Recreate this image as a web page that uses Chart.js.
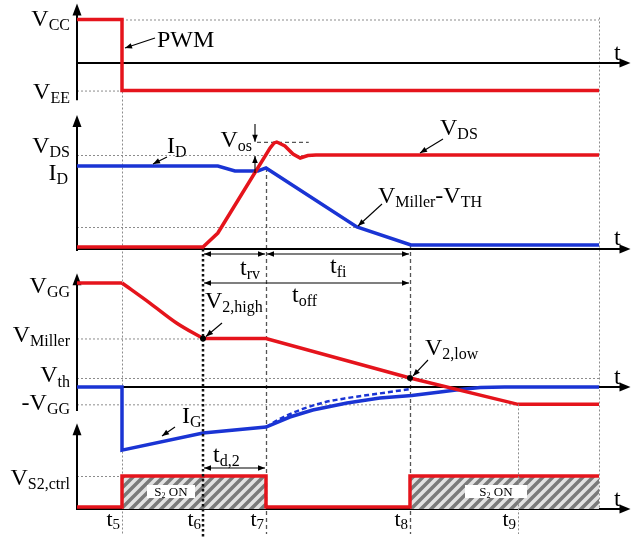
<!DOCTYPE html>
<html>
<head>
<meta charset="utf-8">
<script src="https://cdn.jsdelivr.net/npm/chart.js@4"></script>
<style>
  html, body { margin: 0; padding: 0; background: #fff; }
  canvas { display: block; }
</style>
</head>
<body>
<canvas id="c" width="632" height="538"></canvas>
<script>
// ---- switching instants (time axis, arbitrary units) ----
const tickNames = ['5', '6', '7', '8', '9'];
const tickTimes = [10, 28, 42, 74, 98];
const T_END = 116;
const [T5, T6, T7, T8, T9] = tickTimes;

// ---- panel 1: PWM command (V) ----
const VCC = 15, VEE = -9.5;
const pwmTime = [0, T5, T5, T_END];
const pwmVolt = [VCC, VCC, VEE, VEE];

// ---- panel 2: drain voltage / current (% of blocking voltage) ----
const VDS_LEVEL = 100, VDS_PEAK = 114, ID_LEVEL = 88.3, MILLER_TH_LEVEL = 23.4;
const vdsTime = [0, T6, 31.3, 42.9, 43.8, 44.4, 45.3, 46.2, 48, 49.6, 51.3, 53.1, T_END];
const vdsPct  = [2.1, 2.1, 17, 107.4, 112.8, 113.8, 111.7, 109.6, 101, 96.8, 99.5, 100, 100];
const idTime  = [0, 31.3, 35.1, 40.2, T7, 62.2, 74.2, T_END];
const idPct   = [88.3, 88.3, 83, 83, 86.2, 23.4, 4.3, 4.3];

// ---- panel 3: gate voltage and gate current ----
const VGG = 15, V_MILLER = 7, V_TH = 1.3, NEG_VGG = -2.5;
// gate discharge down to the Miller plateau (smooth part)
const vgeFallTime = [T5, 16.2, 22.2, T6];
const vgeFallVolt = [VGG, 12.1, 9.2, V_MILLER];
// remaining piecewise-linear part
const vgeTime = [0, T5, T5, T6, T7, T8, T9, T_END];
const vgeVolt = [VGG, VGG, VGG, V_MILLER, V_MILLER, V_TH, NEG_VGG, NEG_VGG];
const igTime  = [0, T5, T5, T6, T7, 47.3, 52.4, 60, 67.3, 74.4, 80.7, 85.1, 89.6, 95, T_END];
const igVal   = [0, 0, -9.1, -6.63, -5.77, -4.33, -3.32, -2.31, -1.59, -1.23, -0.72, -0.36, -0.07, 0, 0];
const igAltTime = [T7, 46, 50, 55, 60, 67, T8];
const igAltVal  = [-5.77, -4.3, -3.2, -2.2, -1.6, -0.95, -0.3];

// ---- panel 4: S2 control signal ----
const VS2 = 1;
const s2Time = [0, T5, T5, T7, T7, T8, T8, T_END];
const s2Val  = [0.06, 0.06, VS2, VS2, 0.06, 0.06, VS2, VS2];
const s2OnStart = [T5, T8];
const s2OnEnd   = [T7, T_END];

// ---- layout ----
const W = 632, H = 538;
const X0 = 77, XK = 4.5;                 // pixel of t = 0, pixels per time unit
const RED = '#e5141c', BLUE = '#1a34d4';
const FONT = '"Liberation Serif", "Times New Roman", serif';

function yScale(axisPx, gain) {
  return { type: 'linear', display: false, min: -(H - axisPx) / gain, max: axisPx / gain };
}
const pts = (xs, ys) => xs.map((x, i) => ({ x, y: ys[i] }));

function hatchPattern() {
  const c = document.createElement('canvas');
  c.width = 10; c.height = 10;
  const g = c.getContext('2d');
  g.fillStyle = '#e2e2e2';
  g.fillRect(0, 0, 10, 10);
  g.strokeStyle = '#7a7a7a';
  g.lineWidth = 3.5;
  g.beginPath();
  g.moveTo(-2, 12); g.lineTo(12, -2);
  g.moveTo(-2, 2); g.lineTo(2, -2);
  g.moveTo(8, 12); g.lineTo(12, 8);
  g.stroke();
  return g.createPattern(c, 'repeat');
}
const HATCH = hatchPattern();

function trace(data, yAxisID, color, extra) {
  return Object.assign({
    data, yAxisID, borderColor: color, borderWidth: 3.5,
    pointRadius: 0, tension: 0, fill: false, borderJoinStyle: 'miter', borderCapStyle: 'butt'
  }, extra || {});
}

const datasets = [
  trace(pts(pwmTime, pwmVolt), 'y1', RED, { order: 1 }),
  trace(pts(vdsTime, vdsPct), 'y2', RED, { order: 1 }),
  trace(pts(idTime, idPct), 'y2', BLUE, { order: 2 }),
  trace(pts(vgeFallTime, vgeFallVolt), 'y3', RED, { order: 1, cubicInterpolationMode: 'monotone', borderJoinStyle: 'round' }),
  trace(pts(vgeTime, vgeVolt), 'y3', RED, { order: 1, segment: { borderColor: c => c.p0DataIndex === 2 ? 'rgba(0,0,0,0)' : RED } }),
  trace(pts(igTime, igVal), 'y3', BLUE, { order: 2 }),
  trace(pts(igAltTime, igAltVal), 'y3', BLUE, { order: 2, borderWidth: 2.5, borderDash: [5, 3], cubicInterpolationMode: 'monotone' }),
  trace(pts(s2Time, s2Val), 'y4', RED, { order: 1 })
];
s2OnStart.forEach((s, i) => {
  datasets.push({
    data: pts([s, s2OnEnd[i]], [VS2, VS2]), yAxisID: 'y4',
    borderWidth: 0, pointRadius: 0, fill: 'origin', backgroundColor: HATCH, order: 5
  });
});

// ---- drawing helpers ----
function rich(ctx, parts, x, y, align, mainSize, subSize, subDy) {
  mainSize = mainSize || 24; subSize = subSize || 16; subDy = subDy === undefined ? 4 : subDy;
  const fonts = parts.map(p => `${p[1] ? subSize : mainSize}px ${FONT}`);
  let w = 0;
  parts.forEach((p, i) => { ctx.font = fonts[i]; w += ctx.measureText(p[0]).width; });
  let cx = align === 'right' ? x - w : align === 'center' ? x - w / 2 : x;
  ctx.fillStyle = '#000';
  ctx.textAlign = 'left';
  ctx.textBaseline = 'alphabetic';
  parts.forEach((p, i) => {
    ctx.font = fonts[i];
    ctx.fillText(p[0], cx, y + (p[1] ? subDy : 0));
    cx += ctx.measureText(p[0]).width;
  });
}
function line(ctx, x1, y1, x2, y2, st) {
  ctx.save();
  ctx.strokeStyle = st.color; ctx.lineWidth = st.width; ctx.setLineDash(st.dash || []);
  ctx.beginPath(); ctx.moveTo(x1, y1); ctx.lineTo(x2, y2); ctx.stroke();
  ctx.restore();
}
function head(ctx, x, y, ang, len, half) {
  ctx.save();
  ctx.fillStyle = '#000';
  ctx.translate(x, y); ctx.rotate(ang);
  ctx.beginPath(); ctx.moveTo(0, 0); ctx.lineTo(-len, -half); ctx.lineTo(-len, half); ctx.closePath(); ctx.fill();
  ctx.restore();
}
function arrow(ctx, x1, y1, x2, y2, both) {
  line(ctx, x1, y1, x2, y2, { color: '#000', width: 1.1 });
  const a = Math.atan2(y2 - y1, x2 - x1);
  head(ctx, x2, y2, a, 7, 2.8);
  if (both) head(ctx, x1, y1, a + Math.PI, 7, 2.8);
}

const DOT  = { color: '#8c8c8c', width: 1, dash: [2, 2] };
const DASH = { color: '#555', width: 1.3, dash: [4, 3] };
const BOLD = { color: '#111', width: 2.5, dash: [2.5, 2.5] };
const AXIS = { color: '#000', width: 2 };
const GUIDE_BOTTOM = 534;

const overlay = {
  id: 'overlay',
  beforeDatasetsDraw(chart) {
    const ctx = chart.ctx, s = chart.scales;
    const X = v => s.x.getPixelForValue(v);
    const Y = (id, v) => s[id].getPixelForValue(v);

    // guide lines
    line(ctx, X(T5), Y('y1', VCC) + 0.5, X(T_END), Y('y1', VCC) + 0.5, DOT);
    line(ctx, X(0), Y('y1', VEE) + 0.5, X(T5), Y('y1', VEE) + 0.5, DOT);
    line(ctx, X(T5) + 0.5, Y('y1', VCC), X(T5) + 0.5, GUIDE_BOTTOM, DOT);
    line(ctx, X(T_END) + 0.5, Y('y1', VCC) - 2, X(T_END) + 0.5, Y('y4', 0), DOT);
    line(ctx, X(0), Y('y2', VDS_LEVEL) + 0.5, X(53), Y('y2', VDS_LEVEL) + 0.5, DOT);
    line(ctx, X(40), Y('y2', VDS_PEAK) + 0.5, X(51.5), Y('y2', VDS_PEAK) + 0.5, DASH);
    line(ctx, X(0), Y('y2', MILLER_TH_LEVEL) + 0.5, X(62.2), Y('y2', MILLER_TH_LEVEL) + 0.5, DOT);
    line(ctx, X(T7) + 0.5, Y('y2', 86.2), X(T7) + 0.5, GUIDE_BOTTOM, DASH);
    line(ctx, X(T8) + 0.5, Y('y2', 4.3), X(T8) + 0.5, GUIDE_BOTTOM, DASH);
    line(ctx, X(0), Y('y3', V_MILLER) + 0.5, X(T6), Y('y3', V_MILLER) + 0.5, DOT);
    line(ctx, X(0), Y('y3', V_TH) + 0.5, X(T_END), Y('y3', V_TH) + 0.5, DOT);
    line(ctx, X(0), Y('y3', NEG_VGG) + 0.5, X(T_END), Y('y3', NEG_VGG) + 0.5, DOT);
    line(ctx, X(0), Y('y4', VS2) + 0.5, X(T5), Y('y4', VS2) + 0.5, DOT);

    // axes with arrows
    const xTip = X(123);
    const axes = [
      ['y1', 20.5, -12.5],
      ['y2', 142.5, -1],
      ['y3', 16.4, -3.3],
      ['y4', 2.6, 0]
    ];
    axes.forEach(([id, top, bot]) => {
      const y0 = Y(id, 0);
      line(ctx, X(0), y0, xTip - 8, y0, AXIS);
      head(ctx, xTip, y0, 0, 11, 4.5);
      line(ctx, X(0), Y(id, bot) + 1, X(0), Y(id, top) + 8, AXIS);
      head(ctx, X(0), Y(id, top), -Math.PI / 2, 12, 4.5);
    });
  },
  afterDatasetsDraw(chart) {
    const ctx = chart.ctx, s = chart.scales;
    const X = v => s.x.getPixelForValue(v);
    const Y = (id, v) => s[id].getPixelForValue(v);

    // guides drawn over the traces
    line(ctx, X(T6), Y('y2', 0), X(T6), GUIDE_BOTTOM + 4, BOLD);
    line(ctx, X(T9) + 0.5, Y('y3', NEG_VGG), X(T9) + 0.5, GUIDE_BOTTOM, DOT);

    // left-hand level labels
    const L = 70;
    rich(ctx, [['V', 0], ['CC', 1]], L, Y('y1', VCC) + 6, 'right');
    rich(ctx, [['V', 0], ['EE', 1]], L, Y('y1', VEE) + 8, 'right');
    rich(ctx, [['V', 0], ['DS', 1]], L, Y('y2', VDS_LEVEL) - 2, 'right');
    rich(ctx, [['I', 0], ['D', 1]], L - 2, Y('y2', ID_LEVEL) + 14, 'right');
    rich(ctx, [['V', 0], ['GG', 1]], L, Y('y3', VGG) + 10, 'right');
    rich(ctx, [['V', 0], ['Miller', 1]], L, Y('y3', V_MILLER) + 4, 'right');
    rich(ctx, [['V', 0], ['th', 1]], L, Y('y3', V_TH) + 4, 'right', 24, 16, 5);
    rich(ctx, [['-V', 0], ['GG', 1]], L, Y('y3', NEG_VGG) + 6, 'right');
    rich(ctx, [['V', 0], ['S2,ctrl', 1]], L, Y('y4', VS2) + 9, 'right');

    // time labels under the last panel
    tickTimes.forEach((t, i) => rich(ctx, [['t', 0], [tickNames[i], 1]], X(t) - 2, 526, 'right', 22, 15, 3));

    // "t" at the end of every time axis
    [['y1', 60], ['y2', 245], ['y3', 384], ['y4', 506]].forEach(([id, yb]) => {
      rich(ctx, [['t', 0]], 614, yb, 'left');
    });

    // trace annotations
    rich(ctx, [['PWM', 0]], 157, 47, 'left');
    arrow(ctx, 155, 38, X(T5) + 3, 48);

    rich(ctx, [['I', 0], ['D', 1]], 167, 153, 'left');
    arrow(ctx, 167, 157, 153, 164);

    rich(ctx, [['V', 0], ['os', 1]], 252, 147, 'right');
    arrow(ctx, 255, 124, 255, Y('y2', VDS_PEAK));
    arrow(ctx, 255, 173, 255, Y('y2', VDS_LEVEL) + 1);

    rich(ctx, [['V', 0], ['DS', 1]], 440, 135, 'left');
    arrow(ctx, 443, 139, 420, 153);

    rich(ctx, [['V', 0], ['Miller', 1], ['-', 0], ['V', 0], ['TH', 1]], 378, 203, 'left');
    arrow(ctx, 382, 204, 358, 226);

    // switching interval arrows
    arrow(ctx, X(T6) + 1, 254, X(T7) - 1, 254, true);
    arrow(ctx, X(T7) + 1, 254, X(T8) - 1, 254, true);
    arrow(ctx, X(T6) + 1, 283, X(T8) - 1, 283, true);
    rich(ctx, [['t', 0], ['rv', 1]], 240, 275, 'left');
    rich(ctx, [['t', 0], ['fi', 1]], 330, 273, 'left');
    rich(ctx, [['t', 0], ['off', 1]], 292, 302, 'left');

    // gate voltage markers
    rich(ctx, [['V', 0], ['2,high', 1]], 205, 308, 'left');
    arrow(ctx, 222, 323, X(T6) + 3, Y('y3', V_MILLER) - 2);
    rich(ctx, [['V', 0], ['2,low', 1]], 425, 355, 'left');
    arrow(ctx, 428, 360, X(T8) + 3, Y('y3', V_TH) - 2);
    ctx.fillStyle = '#000';
    [[T6, V_MILLER], [T8, V_TH]].forEach(([t, v]) => {
      ctx.beginPath(); ctx.arc(X(t), Y('y3', v), 3, 0, Math.PI * 2); ctx.fill();
    });

    rich(ctx, [['I', 0], ['G', 1]], 182, 423, 'left');
    arrow(ctx, 175, 427, 162, 436);

    arrow(ctx, X(T6) + 1, 468, X(T7) - 1, 468, true);
    rich(ctx, [['t', 0], ['d,2', 1]], 213, 462, 'left');

    // S2 on-state tags
    [[147, 48], [465, 62]].forEach(([bx, bw]) => {
      ctx.fillStyle = '#fff';
      ctx.fillRect(bx, 485, bw, 13);
      rich(ctx, [['S', 0], ['2', 1], [' ON', 0]], bx + bw / 2, 496, 'center', 13, 8, 2);
    });
  }
};

new Chart(document.getElementById('c'), {
  type: 'line',
  data: { datasets },
  options: {
    responsive: false,
    animation: false,
    events: [],
    devicePixelRatio: 1,
    layout: { padding: 0 },
    plugins: { legend: { display: false }, tooltip: { enabled: false } },
    scales: {
      x: { type: 'linear', display: false, min: -X0 / XK, max: (W - X0) / XK },
      y1: yScale(63, 2.9),
      y2: yScale(249, 0.94),
      y3: yScale(387, 104 / 15),
      y4: yScale(509, 33)
    }
  },
  plugins: [overlay]
});
</script>
</body>
</html>
